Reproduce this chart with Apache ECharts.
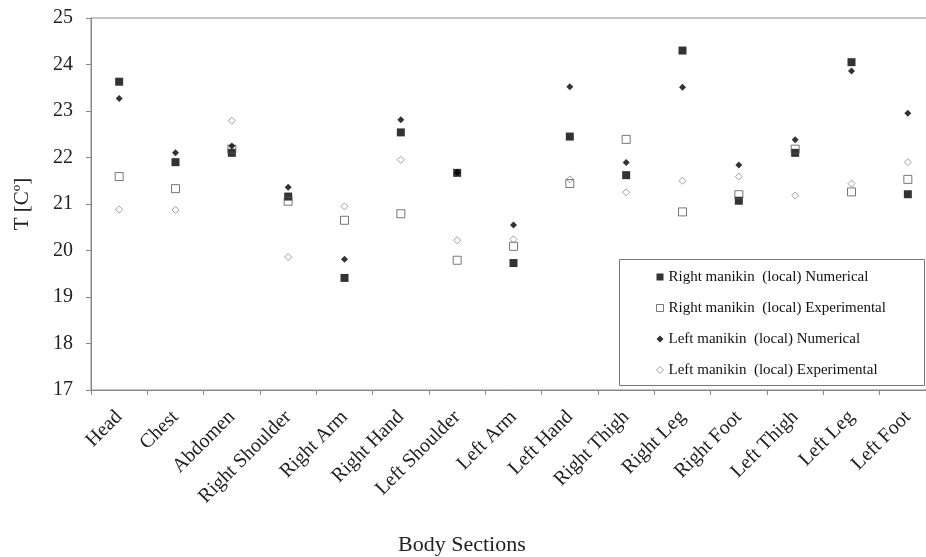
<!DOCTYPE html>
<html>
<head>
<meta charset="utf-8">
<script src="https://cdn.jsdelivr.net/npm/echarts@6/dist/echarts.min.js"></script>
<style>html,body{margin:0;padding:0;background:#fff}#c{width:926px;height:557px}</style>
</head>
<body>
<div id="c"></div>
<script>
var categories = ['Head','Chest','Abdomen','Right Shoulder','Right Arm','Right Hand','Left Shoulder','Left Arm','Left Hand','Right Thigh','Right Leg','Right Foot','Left Thigh','Left Leg','Left Foot'];
var rightNumerical    = [23.63, 21.90, 22.10, 21.16, 19.41, 22.54, 21.67, 19.73, 22.45, 21.62, 24.30, 21.07, 22.10, 24.05, 21.21];
var rightExperimental = [21.59, 21.33, 22.18, 21.06, 20.65, 20.79, 19.79, 20.09, 21.44, 22.39, 20.83, 21.20, 22.18, 21.26, 21.53];
var leftNumerical     = [23.27, 22.10, 22.25, 21.36, 19.81, 22.81, 21.68, 20.55, 23.52, 21.89, 23.51, 21.84, 22.38, 23.86, 22.95];
var leftExperimental  = [20.88, 20.87, 22.79, 19.86, 20.95, 21.95, 20.22, 20.24, 21.53, 21.25, 21.50, 21.59, 21.18, 21.44, 21.90];
var yTicks = {min: 17, max: 25, interval: 1};
var seriesNames = ['Right manikin  (local) Numerical','Right manikin  (local) Experimental','Left manikin  (local) Numerical','Left manikin  (local) Experimental'];

var font = "'Liberation Serif', 'Times New Roman', serif";
var styles = [
  {symbol:'rect', size:8, item:{color:'#000', borderColor:'#000', borderWidth:0}},
  {symbol:'rect', size:8, item:{color:'rgba(0,0,0,0)', borderColor:'#555', borderWidth:1}},
  {symbol:'diamond', size:7, item:{color:'#000', borderColor:'#000', borderWidth:0}},
  {symbol:'diamond', size:7, item:{color:'rgba(0,0,0,0)', borderColor:'#888', borderWidth:1}}
];
var dataSets = [rightNumerical, rightExperimental, leftNumerical, leftExperimental];

var chart = echarts.init(document.getElementById('c'));
chart.setOption({
  animation: false,
  backgroundColor: '#fff',
  title: {
    text: 'Body Sections', left: 393, top: 529,
    textStyle: {fontFamily: font, fontSize: 22, fontWeight: 'normal', color: '#222'}
  },
  grid: {left: 91, top: 18, bottom: 167, width: 845, outerBoundsMode: 'none', containLabel: false,
         show: true, borderColor: '#888', borderWidth: 1, backgroundColor: 'transparent'},
  xAxis: {
    type: 'category', data: categories, boundaryGap: true,
    axisLine: {lineStyle: {color: '#888', width: 1}},
    axisTick: {show: true, inside: false, length: 5, lineStyle: {color: '#888'}},
    axisLabel: {rotate: 45, interval: 0, margin: 24, fontFamily: font, fontSize: 20, color: '#222'},
    splitLine: {show: false}
  },
  yAxis: {
    type: 'value', min: yTicks.min, max: yTicks.max, interval: yTicks.interval,
    name: 'T [Cº]', nameLocation: 'middle', nameGap: 58, nameRotate: 90,
    nameTextStyle: {fontFamily: font, fontSize: 21, color: '#222'},
    axisLine: {show: true, lineStyle: {color: '#888', width: 1}},
    axisTick: {show: true, inside: false, length: 5, lineStyle: {color: '#888'}},
    axisLabel: {margin: 18, fontFamily: font, fontSize: 20, color: '#222'},
    splitLine: {show: false}
  },
  legend: {
    orient: 'vertical', left: 651, top: 263, itemWidth: 7, itemHeight: 7, itemGap: 13,
    textStyle: {fontFamily: font, fontSize: 15, color: '#111', lineHeight: 18},
    data: seriesNames.map(function (n, i) {
      return {name: n, icon: styles[i].symbol, itemStyle: styles[i].item};
    })
  },
  graphic: [{
    type: 'rect', left: 619, top: 259, z: 0,
    shape: {width: 305, height: 126},
    style: {fill: '#fff', stroke: '#777', lineWidth: 1}
  }],
  series: dataSets.map(function (d, i) {
    return {
      name: seriesNames[i], type: 'scatter', data: d,
      symbol: styles[i].symbol, symbolSize: styles[i].size,
      itemStyle: styles[i].item, z: 3 + i
    };
  })
});
</script>
</body>
</html>
